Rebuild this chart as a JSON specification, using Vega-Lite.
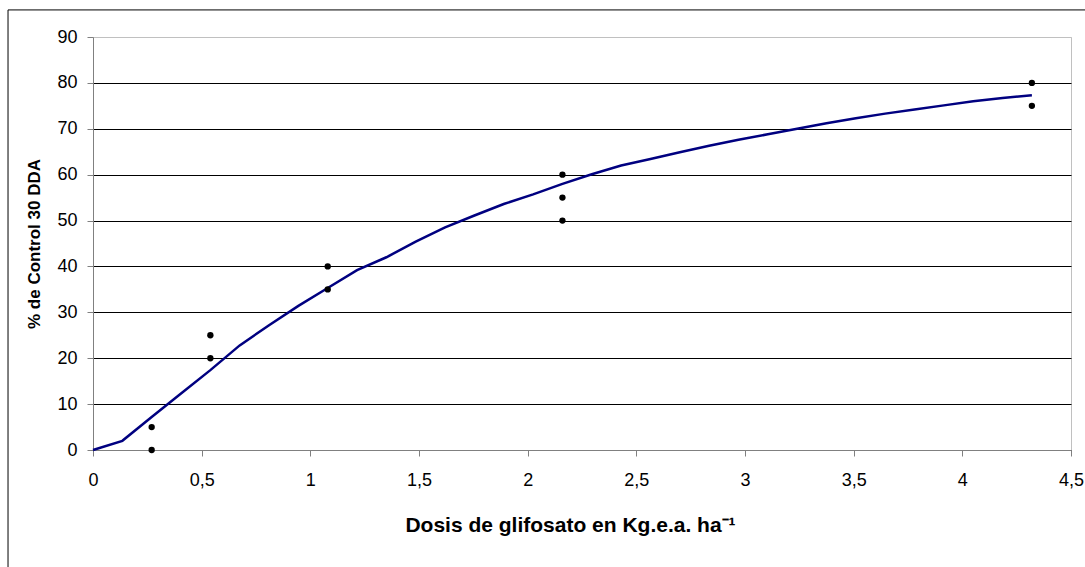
{
  "$schema": "https://vega.github.io/schema/vega-lite/v6.json",
  "autosize": {"type": "none"},
  "width": 978,
  "height": 413,
  "padding": {"left": 93, "top": 37, "right": 14, "bottom": 117},
  "background": "white",
  "config": {
    "view": {"stroke": "#c0c0c0", "strokeWidth": 1},
    "axis": {
      "labelFont": "Liberation Sans",
      "labelFontSize": 18,
      "labelColor": "#000000",
      "titleFont": "Liberation Sans",
      "titleFontWeight": "bold",
      "titleColor": "#000000",
      "domainColor": "#808080",
      "tickColor": "#808080",
      "tickSize": 6
    }
  },
  "datasets": {
    "obs": [
      {"dosis": 0.27, "control": 0},
      {"dosis": 0.27, "control": 5},
      {"dosis": 0.54, "control": 20},
      {"dosis": 0.54, "control": 25},
      {"dosis": 1.08, "control": 35},
      {"dosis": 1.08, "control": 40},
      {"dosis": 2.16, "control": 50},
      {"dosis": 2.16, "control": 55},
      {"dosis": 2.16, "control": 60},
      {"dosis": 4.32, "control": 75},
      {"dosis": 4.32, "control": 80}
    ],
    "curve": [
      {"dosis": 0, "control": 0},
      {"dosis": 0.135, "control": 2},
      {"dosis": 0.27, "control": 7.2},
      {"dosis": 0.405, "control": 12.3},
      {"dosis": 0.54, "control": 17.4},
      {"dosis": 0.675, "control": 22.8},
      {"dosis": 0.81, "control": 27.2},
      {"dosis": 0.945, "control": 31.4},
      {"dosis": 1.08, "control": 35.3},
      {"dosis": 1.215, "control": 39.2},
      {"dosis": 1.35, "control": 42.0},
      {"dosis": 1.485, "control": 45.4},
      {"dosis": 1.62, "control": 48.5},
      {"dosis": 1.755, "control": 51.1},
      {"dosis": 1.89, "control": 53.6},
      {"dosis": 2.025, "control": 55.7},
      {"dosis": 2.16, "control": 58.0},
      {"dosis": 2.295, "control": 60.1},
      {"dosis": 2.43, "control": 62.0},
      {"dosis": 2.565, "control": 63.4},
      {"dosis": 2.7, "control": 64.9},
      {"dosis": 2.835, "control": 66.3},
      {"dosis": 2.97, "control": 67.6},
      {"dosis": 3.105, "control": 68.8},
      {"dosis": 3.24, "control": 70.0},
      {"dosis": 3.375, "control": 71.2},
      {"dosis": 3.51, "control": 72.3},
      {"dosis": 3.645, "control": 73.3},
      {"dosis": 3.78, "control": 74.2},
      {"dosis": 3.915, "control": 75.1},
      {"dosis": 4.05, "control": 76.0},
      {"dosis": 4.185, "control": 76.7},
      {"dosis": 4.32, "control": 77.3}
    ]
  },
  "layer": [
    {
      "data": {"name": "curve"},
      "mark": {"type": "line", "color": "#000080", "strokeWidth": 2.5, "interpolate": "linear"},
      "encoding": {
        "x": {
          "field": "dosis",
          "type": "quantitative",
          "scale": {"domain": [0, 4.5], "nice": false, "zero": false},
          "axis": {
            "title": "Dosis de glifosato en Kg.e.a. ha⁻¹",
            "titleFontSize": 21,
            "titlePadding": 25,
            "titleX": 477,
            "values": [0, 0.5, 1, 1.5, 2, 2.5, 3, 3.5, 4, 4.5],
            "labelExpr": "replace(toString(datum.value), '.', ',')",
            "labelPadding": 15,
            "grid": false,
            "labelFlush": false
          }
        },
        "y": {
          "field": "control",
          "type": "quantitative",
          "scale": {"domain": [0, 90], "nice": false},
          "axis": {
            "title": "% de Control 30 DDA",
            "titleFontSize": 17,
            "titlePadding": 13,
            "values": [0, 10, 20, 30, 40, 50, 60, 70, 80, 90],
            "labelPadding": 10,
            "grid": true,
            "gridColor": {"condition": {"test": "datum.value == 90", "value": "#c0c0c0"}, "value": "#000000"},
            "gridOpacity": 1,
            "labelFlush": false
          }
        }
      }
    },
    {
      "data": {"name": "obs"},
      "mark": {"type": "point", "filled": true, "color": "#000000", "opacity": 1, "size": 40},
      "encoding": {
        "x": {"field": "dosis", "type": "quantitative"},
        "y": {"field": "control", "type": "quantitative"}
      }
    },
    {
      "data": {"values": [{"k": 1}]},
      "mark": {"type": "rule", "color": "#000000", "strokeWidth": 1, "clip": false},
      "encoding": {
        "x": {"datum": -0.391, "type": "quantitative"},
        "y": {"datum": 95.9, "type": "quantitative"},
        "y2": {"datum": -40}
      }
    },
    {
      "data": {"values": [{"k": 1}]},
      "mark": {"type": "rule", "color": "#000000", "strokeWidth": 1, "clip": false},
      "encoding": {
        "y": {"datum": 95.9, "type": "quantitative"},
        "x": {"datum": -0.391, "type": "quantitative"},
        "x2": {"datum": 6}
      }
    }
  ]
}
